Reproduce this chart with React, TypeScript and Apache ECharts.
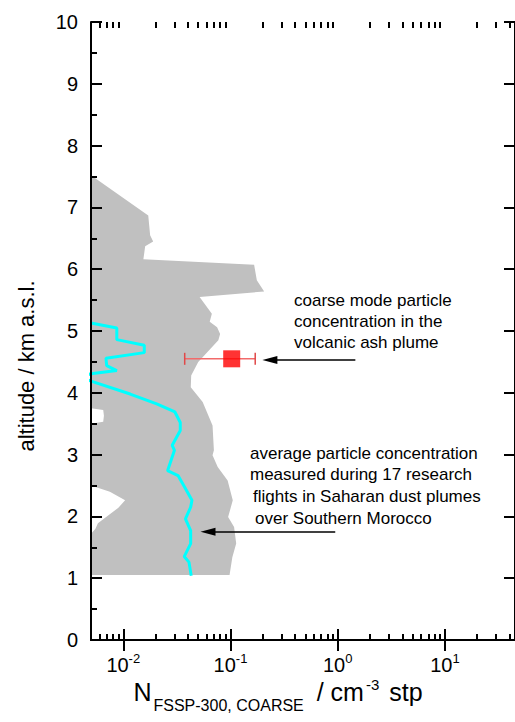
import React, { useEffect, useRef } from 'react';
import * as echarts from 'echarts';

const FONT = '"Liberation Sans", Arial, Helvetica, sans-serif';

// Axis ranges
const X_MIN = 0.005;
const X_MAX = 45;
const Y_MIN = 0;
const Y_MAX = 10;
const Y_TICK_LABELS = ['0', '1', '2', '3', '4', '5', '6', '7', '8', '9', '10'];

// Log tick values
const X_MAJOR_TICKS = [0.01, 0.1, 1, 10];
const X_MINOR_TICKS = [
  0.006, 0.007, 0.008, 0.009,
  0.02, 0.03, 0.04, 0.05, 0.06, 0.07, 0.08, 0.09,
  0.2, 0.3, 0.4, 0.5, 0.6, 0.7, 0.8, 0.9,
  2, 3, 4, 5, 6, 7, 8, 9,
  20, 30, 40,
];

// Range envelope of the 17 flights: right edge (top -> bottom)
const RANGE_RIGHT_X = [
  0.005, 0.0171, 0.0178, 0.019, 0.016, 0.0154, 0.166, 0.176, 0.206, 0.0515,
  0.067, 0.064, 0.075, 0.08, 0.077, 0.05, 0.043, 0.0426, 0.055, 0.068,
  0.07, 0.068, 0.076, 0.094, 0.105, 0.095, 0.108, 0.113, 0.104, 0.098, 0.005,
];
const RANGE_RIGHT_ALT = [
  7.52, 6.87, 6.55, 6.45, 6.37, 6.16, 6.07, 5.82, 5.64, 5.55,
  5.28, 5.15, 5.06, 4.95, 4.85, 4.5, 4.28, 4.09, 3.85, 3.47,
  3.07, 2.99, 2.8, 2.58, 2.26, 1.99, 1.83, 1.56, 1.34, 1.05, 1.05,
];
// left edge (bottom -> top)
const RANGE_LEFT_X = [
  0.005, 0.005, 0.0055, 0.0058, 0.009, 0.0104, 0.0075, 0.005,
  0.005, 0.0065, 0.0066, 0.0065, 0.005, 0.005,
];
const RANGE_LEFT_ALT = [
  1.05, 1.72, 1.8, 1.89, 2.14, 2.26, 2.4, 2.5,
  3.5, 3.53, 3.63, 3.72, 3.75, 7.52,
];

// Mean profile (top -> bottom)
const MEAN_X = [
  0.005, 0.0087, 0.0087, 0.0157, 0.0157, 0.0069, 0.007, 0.0087, 0.005, 0.004,
  0.005, 0.0116, 0.0205, 0.0303, 0.034, 0.034, 0.0286, 0.03, 0.0259, 0.0324,
  0.0374, 0.0437, 0.0425, 0.038, 0.0425, 0.0425, 0.037, 0.041, 0.043,
];
const MEAN_ALT = [
  5.13, 5.05, 4.86, 4.77, 4.65, 4.56, 4.44, 4.36, 4.31, 4.25,
  4.19, 3.98, 3.82, 3.69, 3.52, 3.39, 3.15, 3.07, 2.74, 2.66,
  2.47, 2.26, 2.15, 1.96, 1.77, 1.56, 1.35, 1.26, 1.04,
];

// Volcanic ash plume measurement
const ASH_X = [0.1026];
const ASH_ALT = [4.55];
const ASH_LOW = [0.0374];
const ASH_HIGH = [0.17];

// Annotation arrows [fromX, fromAlt, toX, toAlt]
const ARROW_ASH = [1.46, 4.53, 0.233, 4.53];
const ARROW_MEAN = [0.948, 1.75, 0.0617, 1.75];

const NOTE_ASH = ['coarse mode particle', 'concentration in the', 'volcanic ash plume'];
const NOTE_MEAN = [
  'average particle concentration',
  'measured during 17 research',
  'flights in Saharan dust plumes',
  'over Southern Morocco',
];

export default function App() {
  const ref = useRef<HTMLDivElement>(null);

  useEffect(() => {
    if (!ref.current) return;
    const chart = echarts.init(ref.current, null, { renderer: 'svg' });

    const rangePoly = (params: any, api: any) => {
      const pts: number[][] = [];
      for (let i = 0; i < RANGE_RIGHT_X.length; i++) pts.push(api.coord([RANGE_RIGHT_X[i], RANGE_RIGHT_ALT[i]]));
      for (let i = 0; i < RANGE_LEFT_X.length; i++) pts.push(api.coord([RANGE_LEFT_X[i], RANGE_LEFT_ALT[i]]));
      return { type: 'polygon', shape: { points: pts }, style: { fill: '#c0c0c0', stroke: null } };
    };

    const errorBar = (params: any, api: any) => {
      const y = api.value(1);
      const lo = api.coord([api.value(2), y]);
      const hi = api.coord([api.value(3), y]);
      const h = 6;
      const st = { stroke: '#f26a6a', lineWidth: 1.5 };
      const cap = { stroke: '#e04848', lineWidth: 1.5 };
      return {
        type: 'group',
        children: [
          { type: 'line', shape: { x1: lo[0], y1: lo[1], x2: hi[0], y2: hi[1] }, style: st },
          { type: 'line', shape: { x1: lo[0], y1: lo[1] - h, x2: lo[0], y2: lo[1] + h }, style: cap },
          { type: 'line', shape: { x1: hi[0], y1: hi[1] - h, x2: hi[0], y2: hi[1] + h }, style: cap },
        ],
      };
    };

    const axisLine = { show: true, lineStyle: { color: '#000', width: 2 } };
    const noLine = { show: false };
    const tickStyle = { color: '#000', width: 2 };

    const logAxis = (position: string, ticks: number[], len: number, line: any, labels: boolean) => ({
      type: 'log', logBase: 10, min: X_MIN, max: X_MAX, position, z: 10,
      axisLine: line, splitLine: { show: false }, minorTick: { show: false },
      axisTick: { show: true, inside: true, length: len, lineStyle: tickStyle, customValues: ticks },
      axisLabel: labels
        ? {
            show: true,
            customValues: X_MAJOR_TICKS,
            margin: 12,
            color: '#000',
            formatter: (v: number) => `{b|10}{s|${Math.round(Math.log10(v))}}`,
            rich: {
              b: { fontSize: 20, fontFamily: FONT, color: '#000' },
              s: { fontSize: 13, fontFamily: FONT, color: '#000', padding: [0, 0, 12, 0] },
            },
          }
        : { show: false },
    });

    const option: any = {
      animation: false,
      backgroundColor: '#fff',
      grid: { left: 91, top: 22, width: 428, height: 618, containLabel: false },
      xAxis: [
        logAxis('bottom', X_MAJOR_TICKS, 11, axisLine, true),
        logAxis('top', X_MAJOR_TICKS, 11, axisLine, false),
        logAxis('bottom', X_MINOR_TICKS, 6, noLine, false),
        logAxis('top', X_MINOR_TICKS, 6, noLine, false),
      ],
      yAxis: [
        {
          type: 'value', min: Y_MIN, max: Y_MAX, interval: 1, position: 'left', z: 10,
          axisLine, splitLine: { show: false },
          axisTick: { show: true, inside: true, length: 11, lineStyle: tickStyle },
          minorTick: { show: true, splitNumber: 2, length: 6, lineStyle: tickStyle },
          axisLabel: {
            margin: 13, color: '#000', fontSize: 20, fontFamily: FONT,
            formatter: (v: number) => Y_TICK_LABELS[Math.round(v)] ?? '',
          },
        },
        {
          type: 'value', min: Y_MIN, max: Y_MAX, interval: 1, position: 'right', z: 10,
          axisLine, splitLine: { show: false },
          axisTick: { show: true, inside: true, length: 11, lineStyle: tickStyle },
          axisLabel: { show: false },
        },
      ],
      series: [
        {
          type: 'custom', name: 'range', coordinateSystem: 'cartesian2d', silent: true, z: 1,
          data: [[0.01, 5]], renderItem: rangePoly,
        },
        {
          type: 'line', name: 'mean', z: 3, silent: true, showSymbol: false, symbol: 'none', clip: true,
          lineStyle: { color: '#00ffff', width: 3 },
          data: MEAN_X.map((x, i) => [x, MEAN_ALT[i]]),
        },
        {
          type: 'custom', name: 'errorbar', coordinateSystem: 'cartesian2d', silent: true, z: 4,
          data: ASH_X.map((x, i) => [x, ASH_ALT[i], ASH_LOW[i], ASH_HIGH[i]]), renderItem: errorBar,
        },
        {
          type: 'scatter', name: 'ash', z: 5, silent: true,
          symbol: 'rect', symbolSize: 17,
          itemStyle: { color: '#ff0000' },
          data: ASH_X.map((x, i) => [x, ASH_ALT[i]]),
          markLine: {
            silent: true,
            animation: false,
            symbol: ['none', 'triangle'],
            label: { show: false },
            emphasis: { disabled: true },
            lineStyle: { color: '#000', width: 1.5, type: 'solid' },
            data: [ARROW_ASH, ARROW_MEAN].map((a) => [
              { coord: [a[0], a[1]], symbol: 'none' },
              { coord: [a[2], a[3]], symbol: 'triangle', symbolSize: [8, 15] },
            ]),
          },
        },
      ],
      graphic: [
        {
          type: 'text', x: 26, y: 366, rotation: Math.PI / 2,
          style: { text: 'altitude / km a.s.l.', fontSize: 22, fontFamily: FONT, fill: '#000', align: 'center', verticalAlign: 'middle' },
        },
        {
          type: 'text', x: 278, y: 692,
          style: {
            text: '{n|N}{sub|FSSP-300, COARSE}{sl| / cm}{sup|-3}{st| stp}',
            align: 'center', verticalAlign: 'middle', fill: '#000',
            rich: {
              n: { fontSize: 25, fontFamily: FONT, fill: '#000' },
              sl: { fontSize: 25, fontFamily: FONT, fill: '#000', padding: [0, 0, 0, 6] },
              st: { fontSize: 25, fontFamily: FONT, fill: '#000', padding: [0, 0, 0, 3] },
              sub: { fontSize: 16, fontFamily: FONT, fill: '#000', padding: [26, 0, 0, 2] },
              sup: { fontSize: 15, fontFamily: FONT, fill: '#000', padding: [0, 0, 16, 2] },
            },
          },
        },
        {
          type: 'text', x: 294, y: 289.5,
          style: { text: NOTE_ASH.join('\n'), fontSize: 17, lineHeight: 21, fontFamily: FONT, fill: '#000', align: 'left', verticalAlign: 'top' },
        },
        ...NOTE_MEAN.map((t, i) => ({
          type: 'text', x: [250, 250, 253, 255][i], y: 453 + i * 21.7,
          style: { text: t, fontSize: 17, fontFamily: FONT, fill: '#000', align: 'left', verticalAlign: 'middle' },
        })),
      ],
    };

    chart.setOption(option);
    return () => chart.dispose();
  }, []);

  return <div ref={ref} style={{ position: 'absolute', left: 0, top: 0, width: 515, height: 722 }} />;
}
